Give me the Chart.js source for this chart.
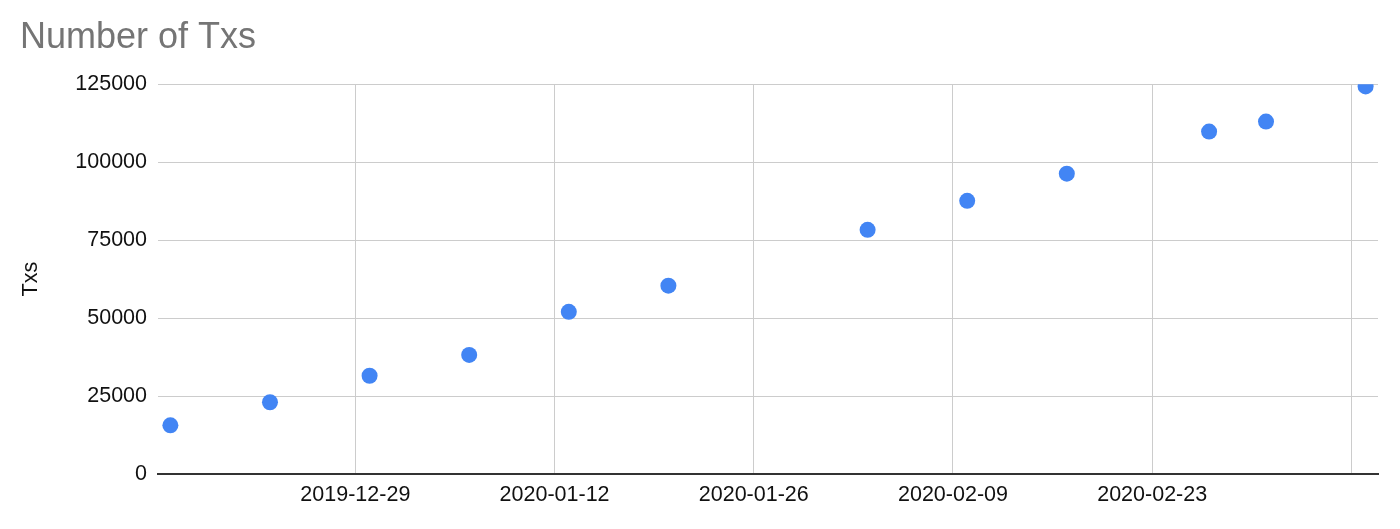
<!DOCTYPE html>
<html>
<head>
<meta charset="utf-8">
<script src="https://cdn.jsdelivr.net/npm/chart.js@4/dist/chart.umd.min.js"></script>
<style>
  body { margin: 0; background: #fff; }
  #wrap { width: 1400px; height: 529px; }
</style>
</head>
<body>
<div id="wrap"><canvas id="txChart"></canvas></div>
<script>
// data (weekly-ish snapshots)
const dates = ['2019-12-16', '2019-12-23', '2019-12-30', '2020-01-06', '2020-01-13', '2020-01-20',
               '2020-02-03', '2020-02-10', '2020-02-17', '2020-02-27', '2020-03-02', '2020-03-09'];
const txs = [15600, 23000, 31500, 38200, 52000, 60400, 78300, 87600, 96300, 109800, 113000, 124300];

const xTickDates = ['2019-12-29', '2020-01-12', '2020-01-26', '2020-02-09', '2020-02-23', '2020-03-08'];
const xTickLabels = ['2019-12-29', '2020-01-12', '2020-01-26', '2020-02-09', '2020-02-23', ''];
const yTicks = [0, 25000, 50000, 75000, 100000, 125000];

// dates -> day numbers, no date adapter available
const toDay = (s) => Date.parse(s + 'T00:00:00Z') / 86400000;

const points = dates.map((d, i) => ({ x: toDay(d), y: txs[i] }));
const font = { family: '"Liberation Sans", Arial, sans-serif', size: 21.5 };

const ctx = document.getElementById('txChart').getContext('2d');
new Chart(ctx, {
    type: 'scatter',
    data: {
        datasets: [{
            label: 'Txs',
            data: points,
            backgroundColor: '#4285F4',
            borderWidth: 0,
            pointRadius: 8,
            pointHoverRadius: 8,
            clip: 0,
        }],
    },
    options: {
        responsive: true,
        maintainAspectRatio: false,
        animation: false,
        events: [],
        layout: { padding: { left: 20, right: 22, top: 0, bottom: 0 } },
        plugins: {
            legend: { display: false },
            tooltip: { enabled: false },
            title: {
                display: true,
                text: 'Number of Txs',
                align: 'start',
                color: '#757575',
                font: { family: font.family, size: 36, weight: 'normal', lineHeight: 1.2 },
                padding: { top: 16, bottom: 25 },
            },
        },
        scales: {
            x: {
                type: 'linear',
                min: toDay(dates[0]) - 0.87,
                max: toDay(dates[dates.length - 1]) + 0.87,
                afterBuildTicks: (scale) => {
                    scale.ticks = xTickDates.map((d) => ({ value: toDay(d) }));
                },
                afterFit: (scale) => { scale.height = 55; },
                ticks: {
                    autoSkip: false,
                    maxRotation: 0,
                    padding: 8,
                    color: '#111',
                    font: font,
                    callback: (value, index) => xTickLabels[index],
                },
                grid: { color: '#cccccc', lineWidth: 1, drawTicks: false },
                border: { display: true, color: '#333333', width: 2 },
            },
            y: {
                min: 0,
                max: 125000,
                afterBuildTicks: (scale) => {
                    scale.ticks = yTicks.map((v) => ({ value: v }));
                },
                afterFit: (scale) => { scale.width = 138; },
                ticks: {
                    padding: 11,
                    color: '#111',
                    font: font,
                    callback: (value) => String(value),
                },
                grid: {
                    drawTicks: false,
                    lineWidth: 1,
                    color: (c) => (c.tick && c.tick.value === 0 ? 'rgba(0,0,0,0)' : '#cccccc'),
                },
                border: { display: false },
                title: {
                    display: true,
                    text: 'Txs',
                    color: '#111',
                    padding: 0,
                    font: { family: font.family, size: 21.5, lineHeight: 1 },
                },
            },
        },
    },
});
</script>
</body>
</html>
